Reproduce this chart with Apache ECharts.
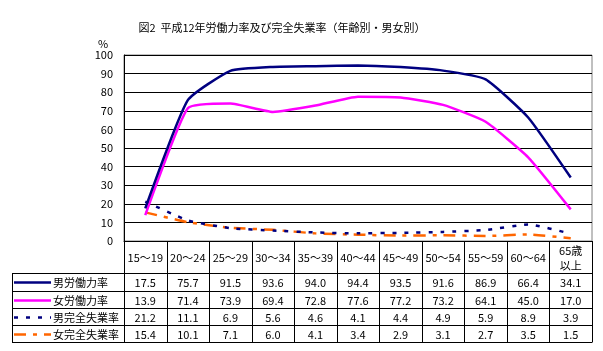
<!DOCTYPE html>
<html>
<head>
<meta charset="utf-8">
<script src="https://cdn.jsdelivr.net/npm/echarts@6/dist/echarts.min.js"></script>
<style>
html,body{margin:0;padding:0;background:#fff;}
#main{width:603px;height:351px;}
</style>
</head>
<body>
<div id="main"></div>
<script>
// 年齢区分
var categories = ['15～19','20～24','25～29','30～34','35～39','40～44','45～49','50～54','55～59','60～64','65歳以上'];
var headerLabels = ['15～19','20～24','25～29','30～34','35～39','40～44','45～49','50～54','55～59','60～64','65歳\n以上'];

var maleLabor   = [17.5, 75.7, 91.5, 93.6, 94.0, 94.4, 93.5, 91.6, 86.9, 66.4, 34.1];
var femaleLabor = [13.9, 71.4, 73.9, 69.4, 72.8, 77.6, 77.2, 73.2, 64.1, 45.0, 17.0];
var maleUnemp   = [21.2, 11.1, 6.9, 5.6, 4.6, 4.1, 4.4, 4.9, 5.9, 8.9, 3.9];
var femaleUnemp = [15.4, 10.1, 7.1, 6.0, 4.1, 3.4, 2.9, 3.1, 2.7, 3.5, 1.5];

var seriesNames = ['男労働力率','女労働力率','男完全失業率','女完全失業率'];
var seriesColors = ['#000080','#FF00FF','#000080','#FF6600'];
var seriesDash = ['solid','solid',[4,8],[12,7,4,7]];
var seriesData = [maleLabor, femaleLabor, maleUnemp, femaleUnemp];

var FONT = '"Noto Sans CJK JP", sans-serif';
var gridL = 124, gridR = 11, gridT = 55, gridB = 110;
var tableLeft = 12;
var rowLines = [241, 273, 291, 308, 325, 342];

var myChart = echarts.init(document.getElementById('main'));

var series = [];
for (var i = 0; i < seriesNames.length; i++) {
    series.push({
        name: seriesNames[i],
        type: 'line',
        data: seriesData[i],
        smooth: 0.15,
        symbol: 'none',
        lineStyle: {color: seriesColors[i], width: 2.5, type: seriesDash[i]},
        z: 10 - i
    });
}

option = {
    animation: false,
    title: {
        text: '図2  平成12年労働力率及び完全失業率（年齢別・男女別）',
        left: 277,
        textAlign: 'center',
        top: 17,
        textStyle: {fontFamily: FONT, fontSize: 11, fontWeight: 'normal', color: '#000'}
    },
    grid: {
        left: gridL, right: gridR, top: gridT, bottom: gridB,
        show: true, borderColor: '#808080', borderWidth: 1
    },
    xAxis: {
        type: 'category',
        data: categories,
        boundaryGap: true,
        axisLine: {lineStyle: {color: '#000', width: 1}},
        axisTick: {show: false},
        axisLabel: {show: false}
    },
    yAxis: {
        type: 'value',
        min: 0, max: 100, interval: 10,
        name: '%',
        nameLocation: 'end',
        nameGap: 6,
        nameTextStyle: {fontFamily: FONT, fontSize: 11, color: '#000', align: 'center', padding: [0, 0, 0, -42]},
        axisLine: {show: true, lineStyle: {color: '#000', width: 1}},
        axisTick: {show: false},
        splitLine: {lineStyle: {color: '#000', width: 1}},
        axisLabel: {fontFamily: FONT, fontSize: 11, color: '#000', margin: 11}
    },
    series: series
};

myChart.setOption(option);

// データテーブル
function buildTable() {
    var g = [];
    var step = myChart.convertToPixel({xAxisIndex: 0}, categories[1]) - myChart.convertToPixel({xAxisIndex: 0}, categories[0]);
    var right = myChart.convertToPixel({xAxisIndex: 0}, categories[categories.length - 1]) + step / 2;
    var left = myChart.convertToPixel({xAxisIndex: 0}, categories[0]) - step / 2;
    var ls = {stroke: '#000', lineWidth: 1};

    for (var r = 1; r < rowLines.length; r++) {
        var y = Math.round(rowLines[r]) + 0.5;
        g.push({type: 'line', shape: {x1: tableLeft, y1: y, x2: right, y2: y}, style: ls, silent: true});
    }
    g.push({type: 'line', shape: {x1: tableLeft + 0.5, y1: rowLines[1], x2: tableLeft + 0.5, y2: rowLines[5] + 0.5}, style: ls});
    for (var c = 0; c <= categories.length; c++) {
        var x = Math.round(left + c * step) + 0.5;
        g.push({type: 'line', shape: {x1: x, y1: rowLines[0], x2: x, y2: rowLines[5] + 0.5}, style: ls});
    }
    for (var c = 0; c < categories.length; c++) {
        var cx = myChart.convertToPixel({xAxisIndex: 0}, categories[c]);
        g.push({type: 'text', x: cx, y: (rowLines[0] + rowLines[1]) / 2 + 1,
            style: {text: headerLabels[c], align: 'center', verticalAlign: 'middle', font: '11px ' + FONT, fill: '#000', lineHeight: 15}});
    }
    for (var r = 0; r < seriesNames.length; r++) {
        var y0 = rowLines[r + 1], y1 = rowLines[r + 2];
        var my = Math.round((y0 + y1) / 2) + 0.5;
        g.push({type: 'line', shape: {x1: tableLeft + 2, y1: my, x2: tableLeft + 39, y2: my},
            style: {stroke: seriesColors[r], lineWidth: 2.5, lineDash: seriesDash[r] === 'solid' ? null : seriesDash[r]}});
        g.push({type: 'text', x: tableLeft + 41, y: my,
            style: {text: seriesNames[r], align: 'left', verticalAlign: 'middle', font: '11px ' + FONT, fill: '#000'}});
        for (var c = 0; c < categories.length; c++) {
            var cx = myChart.convertToPixel({xAxisIndex: 0}, categories[c]);
            g.push({type: 'text', x: cx, y: my,
                style: {text: seriesData[r][c].toFixed(1), align: 'center', verticalAlign: 'middle', font: '11px ' + FONT, fill: '#000'}});
        }
    }
    myChart.setOption({graphic: g});
}
buildTable();
</script>
</body>
</html>
